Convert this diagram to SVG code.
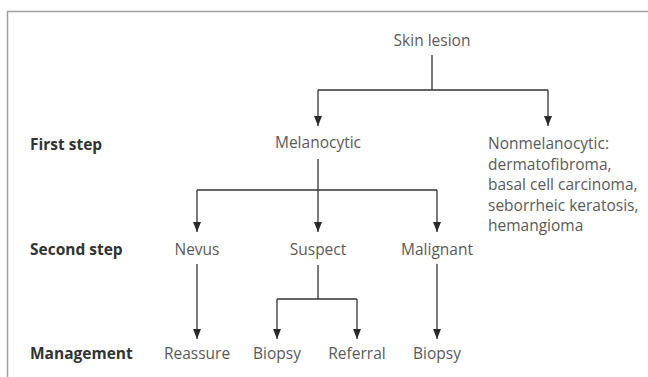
<svg xmlns="http://www.w3.org/2000/svg" width="648" height="377" viewBox="0 0 648 377">
<defs>
<marker id="ah" markerWidth="10" markerHeight="8" refX="10" refY="4" orient="auto" markerUnits="userSpaceOnUse" viewBox="0 0 10 8">
<path d="M0,0 L10,4 L0,8 Z" fill="#2b2b2b"/>
</marker>
<style>
.t{font-family:"Open Sans","Liberation Sans",sans-serif;font-size:15.5px;fill:#5a5a5a;}
.b{font-family:"Open Sans","Liberation Sans",sans-serif;font-size:15.5px;font-weight:bold;fill:#333;}
.c{fill:none;stroke:#333;stroke-width:1.3;}
</style>
</defs>
<rect width="648" height="377" fill="#fff"/>
<path d="M7.5,377 V11.5 H648" fill="none" stroke="#a0a0a0" stroke-width="1.5"/>
<g id="labels">
<text class="b" x="30" y="150">First step</text>
<text class="b" x="30" y="255">Second step</text>
<text class="b" x="30" y="359">Management</text>
</g>
<g id="skin"><text class="t" x="432" y="46" text-anchor="middle">Skin lesion</text></g>
<g id="melanocytic"><text class="t" x="318" y="148" text-anchor="middle">Melanocytic</text></g>
<g id="nonmelanocytic"><text class="t" x="488" y="149">Nonmelanocytic:<tspan x="488" dy="20.5">dermatofibroma,</tspan><tspan x="488" dy="20.5">basal cell carcinoma,</tspan><tspan x="488" dy="20.5">seborrheic keratosis,</tspan><tspan x="488" dy="20.5">hemangioma</tspan></text></g>
<g id="nevus"><text class="t" x="197" y="255" text-anchor="middle">Nevus</text></g>
<g id="suspect"><text class="t" x="318" y="255" text-anchor="middle">Suspect</text></g>
<g id="malignant"><text class="t" x="437" y="255" text-anchor="middle">Malignant</text></g>
<g id="reassure"><text class="t" x="197" y="359" text-anchor="middle">Reassure</text></g>
<g id="biopsy1"><text class="t" x="277" y="359" text-anchor="middle">Biopsy</text></g>
<g id="referral"><text class="t" x="357" y="359" text-anchor="middle">Referral</text></g>
<g id="biopsy2"><text class="t" x="437" y="359" text-anchor="middle">Biopsy</text></g>
<g id="connectors">
<path class="c" d="M432,55 V90 M318,90 H548"/>
<path class="c" d="M318,90 V126" marker-end="url(#ah)"/>
<path class="c" d="M548,90 V126" marker-end="url(#ah)"/>
<path class="c" d="M197,190 H437"/>
<path class="c" d="M318,159 V232" marker-end="url(#ah)"/>
<path class="c" d="M197,190 V232" marker-end="url(#ah)"/>
<path class="c" d="M437,190 V232" marker-end="url(#ah)"/>
<path class="c" d="M197,264 V339" marker-end="url(#ah)"/>
<path class="c" d="M437,264 V339" marker-end="url(#ah)"/>
<path class="c" d="M318,265 V299 M277,299 H357"/>
<path class="c" d="M277,299 V339" marker-end="url(#ah)"/>
<path class="c" d="M357,299 V339" marker-end="url(#ah)"/>
</g>
</svg>
